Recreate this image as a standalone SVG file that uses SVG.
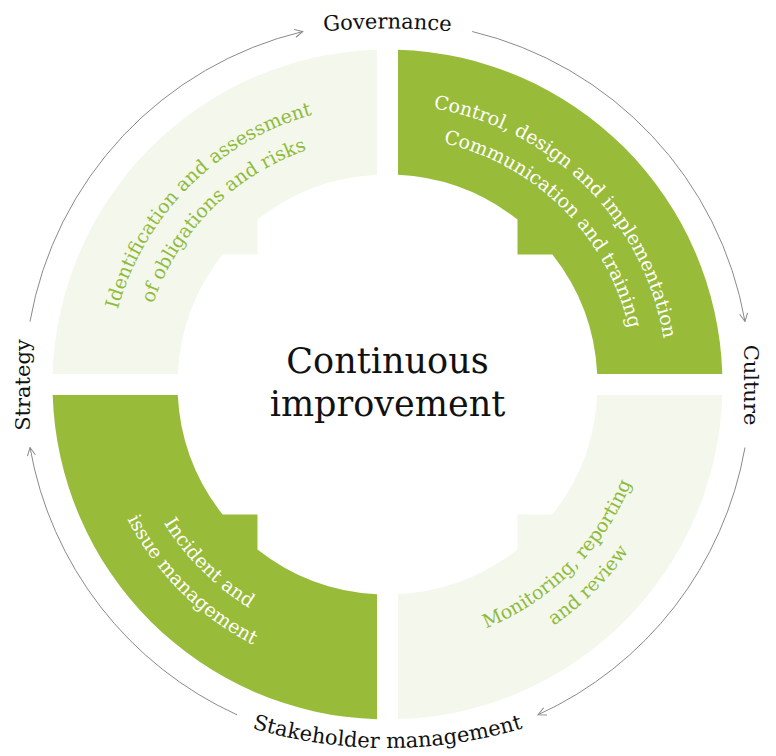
<svg xmlns="http://www.w3.org/2000/svg" xmlns:xlink="http://www.w3.org/1999/xlink" width="776" height="756" viewBox="0 0 776 756">
  <style>
    .dark { fill: #98bc3a; }
    .light { fill: #f4f7ec; }
    .tw { fill: #ffffff; font-family: "DejaVu Serif", "Liberation Serif", serif; font-size: 19px; }
    .tg { fill: #8fbb3c; font-family: "DejaVu Serif", "Liberation Serif", serif; font-size: 19px; }
    .lbl { fill: #111111; font-family: "DejaVu Serif", "Liberation Serif", serif; font-size: 21px; }
    .center { fill: #111111; font-family: "DejaVu Serif", "Liberation Serif", serif; font-size: 35px; }
    .arrow { fill: none; stroke: #8a8a8a; stroke-width: 1; }
  </style>
  <defs>
    <marker id="chev" viewBox="0 0 10 10" refX="9" refY="5" markerWidth="10" markerHeight="10" markerUnits="userSpaceOnUse" orient="auto">
      <path d="M1,1 L9,5 L1,9" fill="none" stroke="#8a8a8a" stroke-width="1"/>
    </marker>
    <path id="top280" d="M 107.5,384.5 A 280 280 0 0 1 667.5,384.5"/>
    <path id="top248" d="M 139.5,384.5 A 248 248 0 0 1 635.5,384.5"/>
    <path id="bot263" d="M 124.5,384.5 A 263 263 0 0 0 650.5,384.5"/>
    <path id="bot293" d="M 94.5,384.5 A 293 293 0 0 0 680.5,384.5"/>
    <path id="govArc" d="M 187.5,57.7 A 700 700 0 0 1 587.5,57.7"/>
    <path id="stakeArc" d="M 187.5,703.7 A 474 474 0 0 0 587.5,703.7"/>
  </defs>

  <g id="identification">
    <path class="light" d="M 377,49.665 A 335 335 0 0 0 52.665,374 L 177.763,374 A 210 210 0 0 1 222.576,254.5 L 257.5,254.5 L 257.5,219.576 A 210 210 0 0 1 377,174.763 Z"/>
    <text class="tg" text-anchor="middle"><textPath xlink:href="#top280" href="#top280" startOffset="25%">Identification and assessment</textPath></text>
    <text class="tg" text-anchor="middle"><textPath xlink:href="#top248" href="#top248" startOffset="25%">of obligations and risks</textPath></text>
  </g>

  <g id="control">
    <path class="dark" d="M 398,49.665 A 335 335 0 0 1 722.335,374 L 597.237,374 A 210 210 0 0 0 552.424,254.5 L 517.5,254.5 L 517.5,219.576 A 210 210 0 0 0 398,174.763 Z"/>
    <text class="tw" text-anchor="middle"><textPath xlink:href="#top280" href="#top280" startOffset="75%">Control, design and implementation</textPath></text>
    <text class="tw" text-anchor="middle"><textPath xlink:href="#top248" href="#top248" startOffset="75%">Communication and training</textPath></text>
  </g>

  <g id="incident">
    <path class="dark" d="M 377,719.335 A 335 335 0 0 1 52.665,395 L 177.763,395 A 210 210 0 0 0 222.576,514.5 L 257.5,514.5 L 257.5,549.424 A 210 210 0 0 0 377,594.237 Z"/>
    <text class="tw" text-anchor="middle"><textPath xlink:href="#bot263" href="#bot263" startOffset="25%">Incident and</textPath></text>
    <text class="tw" text-anchor="middle"><textPath xlink:href="#bot293" href="#bot293" startOffset="25%">issue management</textPath></text>
  </g>

  <g id="monitoring">
    <path class="light" d="M 398,719.335 A 335 335 0 0 0 722.335,395 L 597.237,395 A 210 210 0 0 1 552.424,514.5 L 517.5,514.5 L 517.5,549.424 A 210 210 0 0 1 398,594.237 Z"/>
    <text class="tg" text-anchor="middle"><textPath xlink:href="#bot263" href="#bot263" startOffset="75%">Monitoring, reporting</textPath></text>
    <text class="tg" text-anchor="middle"><textPath xlink:href="#bot293" href="#bot293" startOffset="75%">and review</textPath></text>
  </g>

  <g id="continuous-improvement">
    <text class="center" x="387.5" y="373" text-anchor="middle">Continuous</text>
    <text class="center" x="387.5" y="416" text-anchor="middle">improvement</text>
  </g>

  <g id="governance">
    <text class="lbl" text-anchor="middle"><textPath xlink:href="#govArc" href="#govArc" startOffset="50%">Governance</textPath></text>
  </g>
  <g id="culture">
    <text class="lbl" text-anchor="middle" transform="translate(744,385) rotate(90)">Culture</text>
  </g>
  <g id="stakeholder">
    <text class="lbl" text-anchor="middle"><textPath xlink:href="#stakeArc" href="#stakeArc" startOffset="50%">Stakeholder management</textPath></text>
  </g>
  <g id="strategy">
    <text class="lbl" text-anchor="middle" transform="translate(30,385) rotate(-90)">Strategy</text>
  </g>

  <g id="connectors">
    <path class="arrow" marker-end="url(#chev)" d="M 30.0,321.5 A 363 363 0 0 1 302.8,31.5"/>
    <path class="arrow" marker-end="url(#chev)" d="M 472.2,31.5 A 363 363 0 0 1 745.0,321.5"/>
    <path class="arrow" marker-end="url(#chev)" d="M 745.0,447.5 A 363 363 0 0 1 538.0,714.8"/>
    <path class="arrow" marker-end="url(#chev)" d="M 237.0,714.8 A 363 363 0 0 1 30.0,447.5"/>
  </g>
</svg>
